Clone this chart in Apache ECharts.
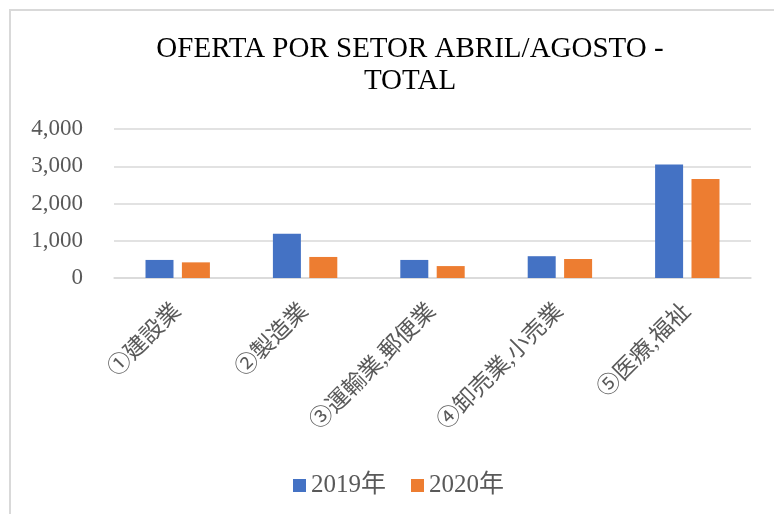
<!DOCTYPE html>
<html>
<head>
<meta charset="utf-8">
<script src="https://cdn.jsdelivr.net/npm/echarts@6/dist/echarts.min.js"></script>
<style>
  html, body { margin: 0; padding: 0; background: #fff; }
  #chart { position: absolute; left: 0; top: 0; width: 774px; height: 514px; }
  /* the chart frame: only top and left edges show in the shot */
  #frame { position: absolute; left: 9px; top: 9px; right: 0; bottom: 0;
           border-top: 2px solid #d9d9d9; border-left: 2px solid #d9d9d9; pointer-events: none; }
</style>
</head>
<body>
<div id="chart"></div>
<div id="frame"></div>
<script>
// sectors and offers, April-August
var categories = ["①建設業", "②製造業", "③運輸業,郵便業", "④卸売業,小売業", "⑤医療,福祉"];
var series2019 = [485, 1190, 485, 585, 3045];
var series2020 = [420, 565, 320, 510, 2660];
var seriesNames = ["2019年", "2020年"];

var FONT = "'Liberation Serif', 'Noto Sans CJK JP', serif";
var GRAY = "#595959";

var chart = echarts.init(document.getElementById("chart"));
chart.setOption({
    animation: false,
    title: {
        text: "OFERTA POR SETOR ABRIL/AGOSTO -\nTOTAL",
        left: 405, top: 28, textAlign: "center",
        textStyle: { fontFamily: FONT, fontSize: 29, fontWeight: "normal", color: "#000", lineHeight: 32 }
    },
    legend: {
        top: 468, left: 288,
        itemWidth: 13, itemHeight: 13, itemGap: 25, icon: "rect",
        textStyle: { fontFamily: FONT, fontSize: 25, color: GRAY },
        data: seriesNames
    },
    grid: { left: 114, right: 23, top: 129, bottom: 236 },
    xAxis: {
        type: "category",
        data: categories,
        axisLine: { lineStyle: { color: "#d9d9d9", width: 1.5 } },
        axisTick: { show: false },
        axisLabel: { rotate: 45, margin: 30, fontFamily: FONT, fontSize: 23, color: GRAY, interval: 0 }
    },
    yAxis: {
        type: "value",
        min: 0, max: 4000, interval: 1000,
        axisLine: { show: false },
        axisTick: { show: false },
        splitLine: { lineStyle: { color: "#d9d9d9", width: 1.5 } },
        axisLabel: {
            margin: 31, fontFamily: FONT, fontSize: 23, color: GRAY,
            formatter: function (v) { return v.toLocaleString("en-US"); }
        }
    },
    series: [
        { name: seriesNames[0], type: "bar", data: series2019, barWidth: 28, barGap: "30%",
          itemStyle: { color: "#4472C4" } },
        { name: seriesNames[1], type: "bar", data: series2020, barWidth: 28,
          itemStyle: { color: "#ED7D31" } }
    ]
});
</script>
</body>
</html>
